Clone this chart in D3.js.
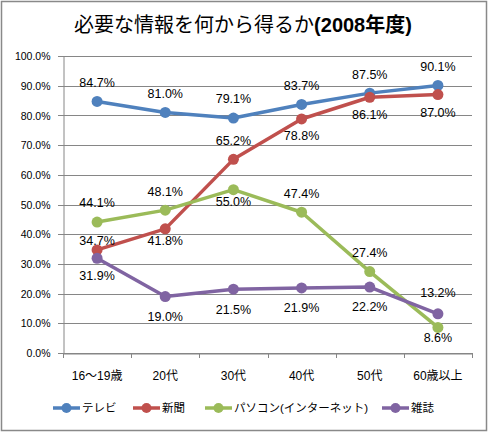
<!DOCTYPE html>
<html><head><meta charset="utf-8">
<script src="https://cdn.jsdelivr.net/npm/d3@7"></script>
<style>body{margin:0;background:#fff}svg{display:block}text{font-family:"Liberation Sans","Noto Sans CJK JP",sans-serif;fill:#000}</style>
</head><body>
<script>
const categories = ["16〜19歳","20代","30代","40代","50代","60歳以上"];
const seriesNames = ["テレビ","新聞","パソコン(インターネット)","雑誌"];
const tv = [84.7,81.0,79.1,83.7,87.5,90.1];
const paper = [34.7,41.8,65.2,78.8,86.1,87.0];
const pc = [44.1,48.1,55.0,47.4,27.4,8.6];
const magazine = [31.9,19.0,21.5,21.9,22.2,13.2];
const yTicks = [0,10,20,30,40,50,60,70,80,90,100];
const titleMain = "必要な情報を何から得るか";
const titleYear = "(2008年度)";

const colors = ["#4F81BD","#C0504D","#9BBB59","#8064A2"];
const values = [tv,paper,pc,magazine];
// label offset (label center relative to point, px)
const labelDy = [
  [-19,-19,-19,-19,-19,-19],
  [-9,12,-19,17,17,18],
  [-19,-19,12,-19,-19,10],
  [17,20,20,20,20,-21]
];

const W=488,H=432;
const svg=d3.select("body").append("svg").attr("width",W).attr("height",H);
svg.append("rect").attr("x",1.5).attr("y",1.5).attr("width",W-3).attr("height",H-3).attr("fill","#fff").attr("stroke","#898989").attr("stroke-width",1.5);

const x=d3.scaleBand().domain(categories).range([63,472]);
const y=d3.scaleLinear().domain([0,100]).range([353,56]);

// grid
svg.append("g").selectAll("line").data(yTicks).join("line")
  .attr("x1",58).attr("x2",472).attr("y1",d=>Math.round(y(d))+0.5).attr("y2",d=>Math.round(y(d))+0.5)
  .attr("stroke","#868686").attr("stroke-width",1);
// y axis
const ya=d3.axisLeft(y).tickValues(yTicks).tickSize(0).tickPadding(13).tickFormat(d=>d.toFixed(1)+"%");
const yg=svg.append("g").attr("transform","translate(63.5,0)").call(ya);
yg.select(".domain").attr("stroke","#868686");
yg.selectAll("text").style("font-size","10.5px").attr("dy","0.35em");
// x axis
const xa=d3.axisBottom(x).tickSize(4).tickSizeOuter(4).tickPadding(14);
const xg=svg.append("g").attr("transform","translate(0,353.5)").call(xa);
xg.select(".domain").attr("stroke","#868686");
xg.selectAll(".tick line").remove();
xg.selectAll("text").style("font-size","12px");
// boundary ticks
svg.append("g").selectAll("line").data(d3.range(categories.length+1)).join("line")
  .attr("x1",i=>Math.round(63+i*x.step())+0.5).attr("x2",i=>Math.round(63+i*x.step())+0.5)
  .attr("y1",353).attr("y2",358).attr("stroke","#868686");

const cx=c=>x(c)+x.bandwidth()/2;
const line=d3.line().x((d,i)=>cx(categories[i])).y(d=>y(d));
values.forEach((vals,s)=>{
  const g=svg.append("g");
  g.append("path").datum(vals).attr("d",line).attr("fill","none").attr("stroke",colors[s]).attr("stroke-width",3.5).attr("stroke-linejoin","round");
  g.selectAll("circle").data(vals).join("circle").attr("cx",(d,i)=>cx(categories[i])).attr("cy",d=>y(d)).attr("r",5.5).attr("fill",colors[s]);
});
values.forEach((vals,s)=>{
  svg.append("g").selectAll("text").data(vals).join("text")
    .attr("x",(d,i)=>cx(categories[i])).attr("y",(d,i)=>y(d)+labelDy[s][i])
    .attr("dy","0.35em").attr("text-anchor","middle").style("font-size","12.5px")
    .text(d=>d.toFixed(1)+"%");
});

// title
const t=svg.append("text").attr("x",243).attr("y",25).attr("dy","0.35em").attr("text-anchor","middle").style("font-size","20px");
t.append("tspan").text(titleMain);
t.append("tspan").style("font-weight","bold").text(titleYear);

// legend
const legX=[53,133,205,382];
const lg=svg.append("g").selectAll("g").data(seriesNames).join("g").attr("transform",(d,i)=>`translate(${legX[i]},408)`);
lg.append("line").attr("x1",0).attr("x2",27).attr("stroke",(d,i)=>colors[i]).attr("stroke-width",3.5);
lg.append("circle").attr("cx",13.5).attr("r",5).attr("fill",(d,i)=>colors[i]);
lg.append("text").attr("x",29).attr("dy","0.35em").style("font-size","11.5px").text(d=>d);
</script>
</body></html>
